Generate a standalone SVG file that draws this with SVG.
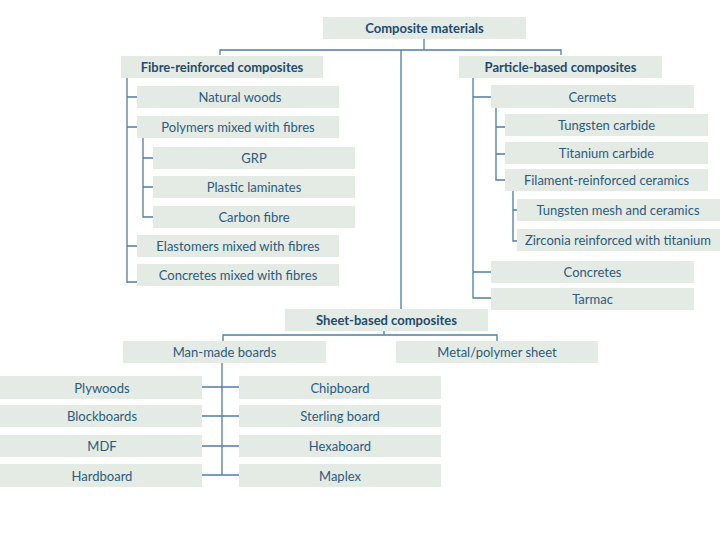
<svg xmlns="http://www.w3.org/2000/svg" width="720" height="540" viewBox="0 0 720 540">
<style>
.b{fill:#e4ebe4}
.t{font-family:Lato,"Open Sans","Liberation Sans",sans-serif;font-size:13px;fill:#2b5a80;text-anchor:middle;dominant-baseline:central}
.h{font-weight:bold;fill:#1f4a70}
.c{fill:none;stroke:#4f7ea3;stroke-width:1.3}
</style>
<rect width="720" height="540" fill="#ffffff"/>
<g id="connectors">
<path class="c" d="M424 39V50M220 55V50H561V55M401 50V309"/>
<path class="c" d="M127 78V283M127 97H137M127 127H137M127 246H137M127 282H137"/>
<path class="c" d="M143 138V217H153M143 158H153M143 187H153"/>
<path class="c" d="M473 78V298H491M473 97H491M473 272H491"/>
<path class="c" d="M496 108V180H505M496 127H505M496 154H505"/>
<path class="c" d="M513 191V241H517M513 210H517"/>
<path class="c" d="M384 331V335M223 341V335H497V341"/>
<path class="c" d="M222 363V475M202 387H239M202 416H239M202 446H239M202 475H239"/>
</g>
<g id="composite"><rect class="b" x="323" y="17" width="203" height="22"/><text class="t h" x="424.5" y="28">Composite materials</text></g>
<g id="fibre"><rect class="b" x="121" y="56" width="202" height="22"/><text class="t h" x="222" y="67">Fibre-reinforced composites</text></g>
<g id="particle"><rect class="b" x="459" y="56" width="203" height="22"/><text class="t h" x="560.5" y="67">Particle-based composites</text></g>
<g id="natural"><rect class="b" x="137" y="86" width="202" height="22"/><text class="t" x="240" y="97">Natural woods</text></g>
<g id="polymers"><rect class="b" x="137" y="116" width="202" height="22"/><text class="t" x="238" y="127">Polymers mixed with fibres</text></g>
<g id="grp"><rect class="b" x="153" y="147" width="202" height="22"/><text class="t" x="254" y="158">GRP</text></g>
<g id="plastic"><rect class="b" x="153" y="176" width="202" height="22"/><text class="t" x="254" y="187">Plastic laminates</text></g>
<g id="carbon"><rect class="b" x="153" y="206" width="202" height="22"/><text class="t" x="254" y="217">Carbon fibre</text></g>
<g id="elastomers"><rect class="b" x="137" y="235" width="202" height="22"/><text class="t" x="238" y="246">Elastomers mixed with fibres</text></g>
<g id="concretes-fibres"><rect class="b" x="137" y="264" width="202" height="22"/><text class="t" x="238" y="275">Concretes mixed with fibres</text></g>
<g id="cermets"><rect class="b" x="491" y="85" width="203" height="23"/><text class="t" x="592.5" y="96.5">Cermets</text></g>
<g id="tungsten-carbide"><rect class="b" x="505" y="114" width="203" height="22"/><text class="t" x="606.5" y="125">Tungsten carbide</text></g>
<g id="titanium-carbide"><rect class="b" x="505" y="142" width="203" height="22"/><text class="t" x="606.5" y="153">Titanium carbide</text></g>
<g id="filament"><rect class="b" x="505" y="169" width="203" height="22"/><text class="t" x="606.5" y="180">Filament-reinforced ceramics</text></g>
<g id="tungsten-mesh"><rect class="b" x="517" y="199" width="203" height="22"/><text class="t" x="618" y="210">Tungsten mesh and ceramics</text></g>
<g id="zirconia"><rect class="b" x="517" y="229" width="203" height="22"/><text class="t" x="618" y="240">Zirconia reinforced with titanium</text></g>
<g id="concretes"><rect class="b" x="491" y="261" width="203" height="22"/><text class="t" x="592.5" y="272">Concretes</text></g>
<g id="tarmac"><rect class="b" x="491" y="288" width="203" height="22"/><text class="t" x="592.5" y="299">Tarmac</text></g>
<g id="sheet"><rect class="b" x="285" y="309" width="203" height="22"/><text class="t h" x="386.5" y="320">Sheet-based composites</text></g>
<g id="man-made"><rect class="b" x="123" y="341" width="203" height="22"/><text class="t" x="224.5" y="352">Man-made boards</text></g>
<g id="metal-polymer"><rect class="b" x="396" y="341" width="202" height="22"/><text class="t" x="497" y="352">Metal/polymer sheet</text></g>
<g id="plywoods"><rect class="b" x="0" y="376" width="202" height="23"/><text class="t" x="102" y="387.5">Plywoods</text></g>
<g id="blockboards"><rect class="b" x="0" y="405" width="202" height="22"/><text class="t" x="102" y="416">Blockboards</text></g>
<g id="mdf"><rect class="b" x="0" y="435" width="202" height="22"/><text class="t" x="102" y="446">MDF</text></g>
<g id="hardboard"><rect class="b" x="0" y="464" width="202" height="23"/><text class="t" x="102" y="475.5">Hardboard</text></g>
<g id="chipboard"><rect class="b" x="239" y="376" width="202" height="23"/><text class="t" x="340" y="387.5">Chipboard</text></g>
<g id="sterling"><rect class="b" x="239" y="405" width="202" height="22"/><text class="t" x="340" y="416">Sterling board</text></g>
<g id="hexaboard"><rect class="b" x="239" y="435" width="202" height="22"/><text class="t" x="340" y="446">Hexaboard</text></g>
<g id="maplex"><rect class="b" x="239" y="464" width="202" height="23"/><text class="t" x="340" y="475.5">Maplex</text></g>
</svg>
